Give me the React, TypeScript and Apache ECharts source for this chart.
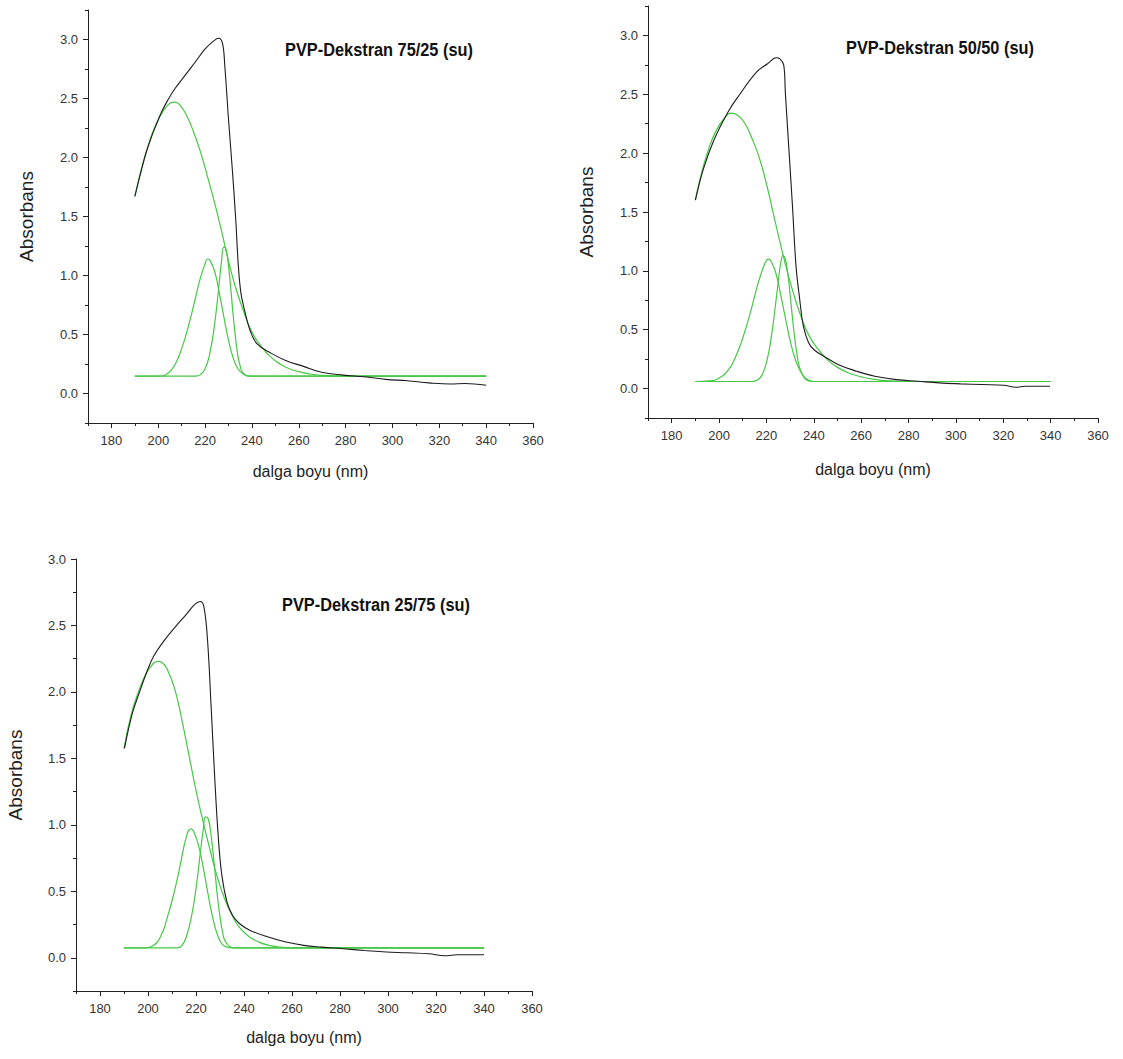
import React, { useEffect, useRef } from "react";
import * as echarts from "echarts";

// ---------- axis ticks ----------
const xMajorTicks = [180, 200, 220, 240, 260, 280, 300, 320, 340, 360];
const yMajorTicks = [0, 0.5, 1.0, 1.5, 2.0, 2.5, 3.0];

// ---------- titles ----------
const titles = ["PVP-Dekstran 75/25 (su)", "PVP-Dekstran 50/50 (su)", "PVP-Dekstran 25/75 (su)"];
const xAxisName = "dalga boyu (nm)";
const yAxisName = "Absorbans";

// ---------- Panel 1: 75/25 ----------
const p1BlackX = [190, 192.5, 194.8, 197, 199.4, 201.5, 203.9, 207, 211.6, 216.2, 220, 223.8, 225.7, 227.4, 228.4, 229.9, 231.5, 233, 234.2, 235.3, 236.8, 239.1, 242.2, 248.3, 254.4, 262, 269.7, 278.9, 288, 297.2, 306.4, 315.6, 324.7, 330.9, 340];
const p1BlackY = [1.67, 1.87, 2.04, 2.17, 2.29, 2.39, 2.48, 2.58, 2.70, 2.82, 2.92, 2.99, 3.01, 2.97, 2.78, 2.35, 1.93, 1.50, 1.08, 0.85, 0.71, 0.54, 0.42, 0.34, 0.28, 0.23, 0.18, 0.156, 0.142, 0.12, 0.108, 0.09, 0.08, 0.085, 0.07];
const p1G1X = [190, 193, 196, 199, 202, 205, 207, 209, 212, 215, 218, 221, 224, 227, 230, 233, 236, 240, 244, 248, 252, 256, 260, 265, 270, 280, 340];
const p1G1Y = [1.67, 1.92, 2.12, 2.28, 2.39, 2.46, 2.47, 2.45, 2.36, 2.22, 2.05, 1.84, 1.62, 1.38, 1.12, 0.90, 0.72, 0.52, 0.40, 0.31, 0.25, 0.21, 0.185, 0.165, 0.153, 0.148, 0.147];
const p1G2X = [190, 200, 204, 207, 210, 213, 216, 218, 220, 221, 222, 224, 226, 228, 230, 232, 234, 236, 238, 240, 340];
const p1G2Y = [0.147, 0.147, 0.17, 0.24, 0.38, 0.58, 0.82, 0.98, 1.10, 1.14, 1.13, 1.04, 0.86, 0.65, 0.45, 0.30, 0.21, 0.17, 0.15, 0.147, 0.147];
const p1G3X = [190, 216, 218, 220, 222, 224, 226, 227, 228, 229, 230, 231, 232, 233, 234, 235, 236, 238, 240, 340];
const p1G3Y = [0.147, 0.147, 0.16, 0.21, 0.34, 0.58, 0.93, 1.12, 1.24, 1.22, 1.08, 0.88, 0.66, 0.47, 0.32, 0.23, 0.18, 0.15, 0.147, 0.147];

// ---------- Panel 2: 50/50 ----------
const p2BlackX = [190, 193.3, 197.8, 203.8, 208.4, 215.9, 220.5, 224.2, 225.7, 227.3, 228, 229.5, 231, 232.5, 234.1, 235.6, 237.8, 240.1, 244.6, 250.7, 258.2, 265.8, 274.8, 283.9, 293, 302, 311, 320.2, 325.4, 329.2, 339.7];
const p2BlackY = [1.60, 1.86, 2.11, 2.35, 2.49, 2.69, 2.76, 2.81, 2.80, 2.75, 2.51, 2.03, 1.55, 1.04, 0.75, 0.53, 0.39, 0.33, 0.27, 0.20, 0.147, 0.105, 0.076, 0.062, 0.048, 0.04, 0.034, 0.028, 0.011, 0.02, 0.02];
const p2G1X = [190, 193, 196, 199, 202, 205, 208, 211, 214, 217, 220, 223, 226, 229, 232, 235, 238, 242, 246, 250, 255, 260, 265, 272, 280, 340];
const p2G1Y = [1.60, 1.86, 2.06, 2.20, 2.29, 2.34, 2.32, 2.25, 2.12, 1.96, 1.74, 1.48, 1.22, 0.98, 0.77, 0.59, 0.45, 0.33, 0.24, 0.18, 0.13, 0.10, 0.08, 0.065, 0.06, 0.06];
const p2G2X = [190, 196, 200, 204, 207, 210, 213, 216, 218, 220, 221, 222, 224, 226, 228, 230, 232, 234, 236, 238, 240, 340];
const p2G2Y = [0.06, 0.065, 0.09, 0.16, 0.27, 0.43, 0.63, 0.86, 0.99, 1.09, 1.10, 1.08, 0.98, 0.80, 0.60, 0.41, 0.26, 0.16, 0.10, 0.07, 0.06, 0.06];
const p2G3X = [190, 214, 216, 218, 220, 222, 224, 225, 226, 227, 228, 229, 230, 231, 232, 233, 234, 236, 238, 240, 340];
const p2G3Y = [0.06, 0.06, 0.07, 0.11, 0.22, 0.43, 0.74, 0.91, 1.06, 1.13, 1.10, 0.98, 0.80, 0.60, 0.42, 0.28, 0.18, 0.09, 0.065, 0.06, 0.06];

// ---------- Panel 3: 25/75 ----------
const p3BlackX = [190.2, 193.5, 196.5, 199.5, 202.4, 206.9, 211.4, 215.8, 219.6, 221.8, 223.3, 224.8, 226.3, 227.7, 229.2, 230.7, 232.9, 235.2, 238.2, 242.6, 250.1, 257.5, 264.9, 272.4, 281.3, 290.2, 299.2, 308.1, 317, 323.7, 328.9, 340];
const p3BlackY = [1.575, 1.84, 2.00, 2.15, 2.27, 2.39, 2.49, 2.58, 2.66, 2.68, 2.64, 2.39, 1.89, 1.39, 0.93, 0.63, 0.42, 0.32, 0.256, 0.206, 0.156, 0.118, 0.093, 0.08, 0.068, 0.055, 0.043, 0.038, 0.03, 0.015, 0.023, 0.023];
const p3G1X = [190, 193, 196, 199, 202, 204, 206, 208, 211, 214, 217, 220, 223, 226, 229, 232, 235, 238, 242, 246, 250, 255, 260, 340];
const p3G1Y = [1.575, 1.83, 2.00, 2.13, 2.21, 2.23, 2.22, 2.17, 2.03, 1.80, 1.53, 1.26, 1.02, 0.80, 0.60, 0.44, 0.32, 0.23, 0.16, 0.12, 0.095, 0.08, 0.075, 0.075];
const p3G2X = [190, 199, 202, 205, 208, 211, 213, 215, 216, 217, 218, 219, 221, 223, 225, 227, 229, 231, 233, 235, 340];
const p3G2Y = [0.075, 0.075, 0.09, 0.15, 0.30, 0.50, 0.66, 0.84, 0.91, 0.96, 0.97, 0.95, 0.85, 0.68, 0.48, 0.30, 0.17, 0.10, 0.08, 0.075, 0.075];
const p3G3X = [190, 212, 214, 216, 218, 220, 222, 223, 224, 225, 226, 227, 228, 229, 230, 231, 232, 234, 236, 340];
const p3G3Y = [0.075, 0.075, 0.09, 0.16, 0.30, 0.52, 0.82, 0.96, 1.06, 1.05, 0.96, 0.81, 0.63, 0.45, 0.31, 0.20, 0.13, 0.085, 0.075, 0.075];

const panelsData = [
  { black: [p1BlackX, p1BlackY], greens: [[p1G1X, p1G1Y], [p1G2X, p1G2Y], [p1G3X, p1G3Y]] },
  { black: [p2BlackX, p2BlackY], greens: [[p2G1X, p2G1Y], [p2G2X, p2G2Y], [p2G3X, p2G3Y]] },
  { black: [p3BlackX, p3BlackY], greens: [[p3G1X, p3G1Y], [p3G2X, p3G2Y], [p3G3X, p3G3Y]] },
];

// ---------- layout (pixels) ----------
const layouts = [
  { left: 88, top: 10, width: 445, height: 413, yMax: 3.25, titleX: 379, titleY: 50, xGap: 40, yGap: 52 },
  { left: 648, top: 6, width: 450, height: 412, yMax: 3.25, titleX: 940, titleY: 48, xGap: 43, yGap: 52 },
  { left: 76, top: 559, width: 456, height: 432, yMax: 3.0, titleX: 376, titleY: 605, xGap: 38, yGap: 51 },
];

const SANS = "'Liberation Sans', Arial, Helvetica, sans-serif";
const AXIS_COLOR = "#222";
const BLACK = "#1c1c1c";
const GREEN = "#46c846";

const pairs = (xs: number[], ys: number[]) => xs.map((x, i) => [x, ys[i]]);

function buildOption() {
  const grid: any[] = [];
  const xAxis: any[] = [];
  const yAxis: any[] = [];
  const series: any[] = [];
  const graphic: any[] = [];

  layouts.forEach((L, p) => {
    grid.push({ left: L.left, top: L.top, width: L.width, height: L.height, containLabel: false });
    // major x
    xAxis.push({
      type: "value", gridIndex: p, min: 170, max: 360, position: "bottom",
      axisLine: { show: true, onZero: false, lineStyle: { color: AXIS_COLOR, width: 1 } },
      axisTick: { show: true, inside: false, length: 5, customValues: xMajorTicks, lineStyle: { color: AXIS_COLOR } },
      axisLabel: { customValues: xMajorTicks, fontSize: 13, fontFamily: SANS, color: "#333", margin: 11 },
      splitLine: { show: false },
      name: xAxisName, nameLocation: "middle", nameGap: L.xGap,
      nameTextStyle: { fontSize: 16, fontFamily: SANS, color: "#222" },
    });
    // minor x
    xAxis.push({
      type: "value", gridIndex: p, min: 170, max: 360, interval: 10, position: "bottom",
      axisLine: { show: false, onZero: false },
      axisTick: { show: true, inside: false, length: 3, lineStyle: { color: AXIS_COLOR } },
      axisLabel: { show: false }, splitLine: { show: false },
    });
    // major y
    yAxis.push({
      type: "value", gridIndex: p, min: -0.25, max: L.yMax, position: "left",
      axisLine: { show: true, onZero: false, lineStyle: { color: AXIS_COLOR, width: 1 } },
      axisTick: { show: true, inside: false, length: 5, customValues: yMajorTicks, lineStyle: { color: AXIS_COLOR } },
      axisLabel: {
        customValues: yMajorTicks, fontSize: 13, fontFamily: SANS, color: "#333", margin: 10,
        formatter: (v: number) => v.toFixed(1),
      },
      splitLine: { show: false },
      name: yAxisName, nameLocation: "middle", nameGap: L.yGap, nameRotate: 90,
      nameTextStyle: { fontSize: 19, fontFamily: SANS, color: "#222" },
    });
    // minor y
    yAxis.push({
      type: "value", gridIndex: p, min: -0.25, max: L.yMax, interval: 0.25, position: "left",
      axisLine: { show: false, onZero: false },
      axisTick: { show: true, inside: false, length: 3, lineStyle: { color: AXIS_COLOR } },
      axisLabel: { show: false }, splitLine: { show: false },
    });

    const D = panelsData[p];
    D.greens.forEach((g, gi) => {
      series.push({
        type: "line", name: `green-${p}-${gi}`, xAxisIndex: 2 * p, yAxisIndex: 2 * p,
        data: pairs(g[0], g[1]), showSymbol: false, smooth: 0.5,
        lineStyle: { color: GREEN, width: 1.2 }, silent: true, z: 2,
      });
    });
    series.push({
      type: "line", name: `black-${p}`, xAxisIndex: 2 * p, yAxisIndex: 2 * p,
      data: pairs(D.black[0], D.black[1]), showSymbol: false, smooth: 0.4,
      lineStyle: { color: BLACK, width: 1.1 }, silent: true, z: 3,
    });

    graphic.push({
      type: "text", x: L.titleX, y: L.titleY, scaleX: 0.86, scaleY: 1,
      style: {
        text: titles[p], fontSize: 19, fontWeight: "bold", fontFamily: SANS, fill: "#111",
        align: "center", verticalAlign: "middle", textAlign: "center", textVerticalAlign: "middle",
      },
    });
  });

  return { animation: false, backgroundColor: "#ffffff", grid, xAxis, yAxis, series, graphic };
}

export default function App() {
  const ref = useRef<HTMLDivElement>(null);
  useEffect(() => {
    if (!ref.current) return;
    const chart = echarts.init(ref.current, undefined, { renderer: "svg" });
    chart.setOption(buildOption() as any);
    return () => chart.dispose();
  }, []);
  return (
    <div
      ref={ref}
      style={{ position: "absolute", left: 0, top: 0, width: 1123, height: 1059, background: "#fff" }}
    />
  );
}
